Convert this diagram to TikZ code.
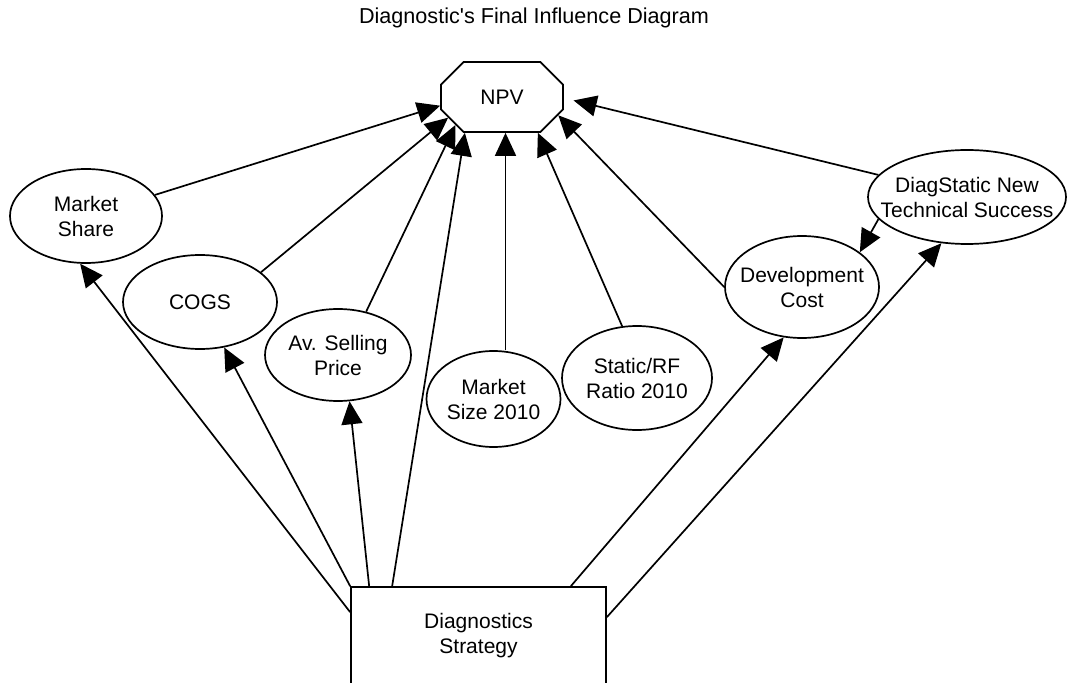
\documentclass[tikz,border=0pt]{standalone}
\usepackage{fontspec}
\setmainfont{Liberation Sans}
\usetikzlibrary{shapes.geometric,shapes.misc,arrows.meta}

\begin{document}
\begin{tikzpicture}[x=0.5pt, y=-0.5pt, line width=0.85pt,
    >={Triangle[length=11.5pt,width=10.5pt]},
    font=\fontsize{10.5}{12.5}\selectfont,
    chance/.style={draw, ellipse, align=center, inner xsep=-10pt, inner ysep=-10pt},
    value/.style={draw, chamfered rectangle, chamfered rectangle xsep=10pt,
      chamfered rectangle ysep=7.7pt, minimum width=61pt, minimum height=35pt, inner sep=0pt},
    decision/.style={draw, rectangle, align=center, minimum width=127.5pt, minimum height=49pt}]
  \useasboundingbox (0,0) rectangle (1068,683);

  % title
  \node[font=\fontsize{10.8}{13}\selectfont] (title) at (534,18)
    {Diagnostic\textquotesingle s Final Influence Diagram};

  % value node
  \node[value] (npv) at (502,97) {NPV};

  % chance nodes
  \node[chance, minimum width=76pt, minimum height=47pt] (ms) at (86,216) {Market\\Share};
  \node[chance, minimum width=77pt, minimum height=47pt] (cogs) at (200,302) {COGS};
  \node[chance, minimum width=73pt, minimum height=46pt] (asp) at (338,355) {Av. Selling\\Price};
  \node[chance, minimum width=67pt, minimum height=48pt] (msize) at (493.5,399) {Market\\Size 2010};
  \node[chance, minimum width=75pt, minimum height=52pt] (srf) at (637,378) {Static/RF\\Ratio 2010};
  \node[chance, minimum width=77pt, minimum height=51pt] (dev) at (802,287) {Development\\Cost};
  \node[chance, minimum width=99pt, minimum height=47pt] (dst) at (967,197) {DiagStatic New\\Technical Success};

  % decision node
  \node[decision] (strat) at (478.5,636) {Diagnostics\\Strategy};

  % influences on NPV
  \draw[->] (ms.17) -- (npv.188);
  \draw[->] (cogs.26) -- (npv.201);
  \draw[->] (asp.57) -- (npv.211);
  \draw[->] ([xshift=21pt]strat.north west) -- (npv.224);
  \draw[->] ([xshift=6pt]msize.north) -- ([xshift=6pt]msize.north |- npv.south);
  \draw[->] (srf.106) -- (npv.-45);
  \draw[->] (dev.180) -- (npv.-18);
  \draw[->, shorten >=5pt] (dst.166) -- (npv.-1);
  \draw[->] (dst.194) -- (dev.31);

  % influences of the strategy
  \draw[->] ([yshift=-13pt]strat.north west) -- (ms.263);
  \draw[->] (strat.north west) -- (cogs.-62);
  \draw[->] ([xshift=9.5pt]strat.north west) -- (asp.-76);
  \draw[->] ([xshift=-18pt]strat.north east) -- (dev.250);
  \draw[->] ([yshift=-15.5pt]strat.north east) -- (dst.241);
\end{tikzpicture}
\end{document}
